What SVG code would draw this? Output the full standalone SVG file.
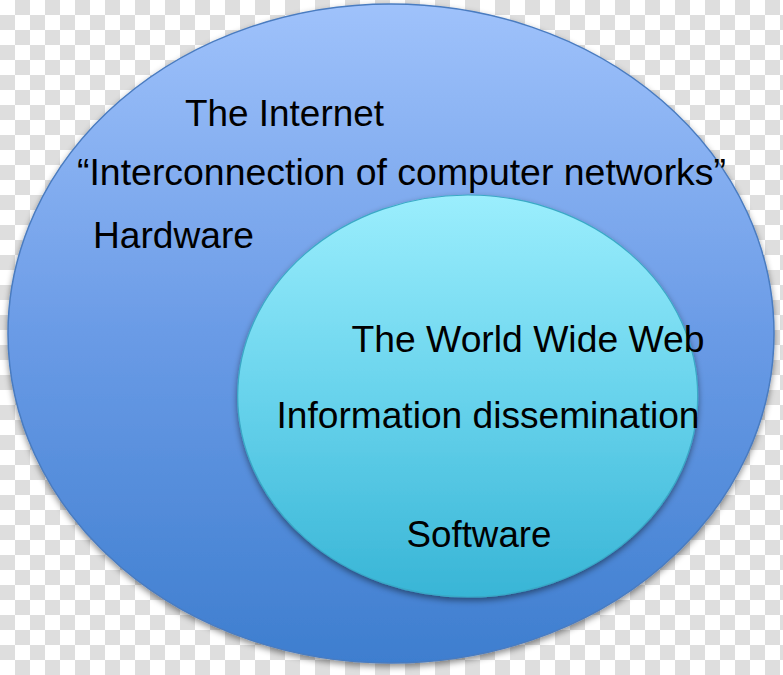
<svg xmlns="http://www.w3.org/2000/svg" width="783" height="675" viewBox="0 0 783 675">
  <defs>
    <pattern id="checker" x="0" y="0" width="30" height="30" patternUnits="userSpaceOnUse">
      <rect x="0" y="0" width="30" height="30" fill="#ffffff"/>
      <rect x="15" y="0" width="15" height="15" fill="#dedede"/>
      <rect x="0" y="15" width="15" height="15" fill="#dedede"/>
    </pattern>
    <linearGradient id="outerGrad" x1="0" y1="0" x2="0" y2="1">
      <stop offset="0" stop-color="#9fc2fb"/>
      <stop offset="0.5" stop-color="#6a9be6"/>
      <stop offset="1" stop-color="#3e7ecf"/>
    </linearGradient>
    <linearGradient id="innerGrad" x1="0" y1="0" x2="0" y2="1">
      <stop offset="0" stop-color="#9beefd"/>
      <stop offset="0.5" stop-color="#68d3ec"/>
      <stop offset="1" stop-color="#38b5d6"/>
    </linearGradient>
    <filter id="shadow" x="-10%" y="-10%" width="120%" height="125%">
      <feDropShadow dx="0" dy="3" stdDeviation="3" flood-color="#000000" flood-opacity="0.45"/>
    </filter>
    <style>
      .lbl { font-family: "Liberation Sans", Arial, sans-serif; font-size: 37.5px; fill: #000000; }
    </style>
  </defs>
  <rect x="0" y="0" width="783" height="675" fill="url(#checker)"/>
  <g id="internet">
    <ellipse cx="391" cy="333.5" rx="383" ry="329.5" fill="url(#outerGrad)" stroke="#4a7cc0" stroke-width="1.5" filter="url(#shadow)"/>
    <text class="lbl" x="185" y="126" textLength="199" lengthAdjust="spacingAndGlyphs">The Internet</text>
    <text class="lbl" x="77" y="185" textLength="649" lengthAdjust="spacingAndGlyphs">“Interconnection of computer networks”</text>
    <text class="lbl" x="93" y="248" textLength="161" lengthAdjust="spacingAndGlyphs">Hardware</text>
  </g>
  <g id="www">
    <ellipse cx="467.7" cy="396" rx="230" ry="201" fill="url(#innerGrad)" stroke="#3aa9c6" stroke-width="1.2" filter="url(#shadow)"/>
    <text class="lbl" x="351.5" y="352" textLength="353" lengthAdjust="spacingAndGlyphs">The World Wide Web</text>
    <text class="lbl" x="276.5" y="428" textLength="423" lengthAdjust="spacingAndGlyphs">Information dissemination</text>
    <text class="lbl" x="406.5" y="547" textLength="145" lengthAdjust="spacingAndGlyphs">Software</text>
  </g>
  <g id="connectors"/>
</svg>
